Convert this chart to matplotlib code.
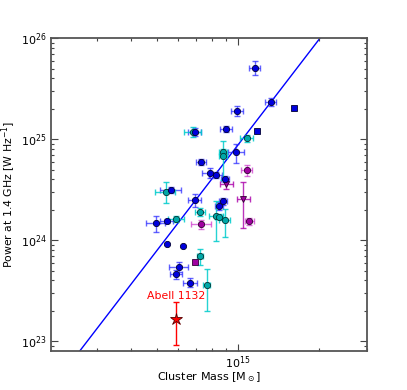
import numpy as np
import matplotlib
matplotlib.use("Agg")
import matplotlib.pyplot as plt

# ---- data (mass in 1e14 Msun, power in 1e24 W/Hz) ----
blue_m = [11.5, 13.2, 9.89, 9.03, 6.89, 9.83, 7.30, 7.83, 8.24, 8.93, 5.63, 6.89, 8.77, 8.51, 4.95, 5.43, 6.03, 5.89, 6.64]
blue_p = [51.2, 23.6, 19.2, 12.6, 11.9, 7.43, 5.92, 4.68, 4.47, 4.05, 3.15, 2.51, 2.45, 2.20, 1.47, 1.55, 0.545, 0.46, 0.381]
blue_xe = [0.55, 0.6, 0.5, 0.46, 0.4, 0.7, 0.3, 0.5, 0.45, 0.3, 0.5, 0.4, 0.3, 0.3, 0.4, 0.3, 0.5, 0.3, 0.4]
blue_ylo = [7.8, 2.3, 2.0, 0.9, 1.0, 1.6, 0.4, 0.55, 0.3, 0.3, 0.2, 0.38, 0.2, 0.2, 0.27, 0.08, 0.06, 0.05, 0.04]
blue_yhi = [8.5, 2.3, 2.0, 0.9, 1.0, 1.65, 0.4, 0.55, 0.3, 0.3, 0.2, 0.38, 0.2, 0.2, 0.27, 0.08, 0.06, 0.05, 0.04]

blue_nc_m = [5.43, 6.24]
blue_nc_p = [0.927, 0.873]
blue_sq_m = [16.1, 11.73]
blue_sq_p = [20.6, 12.2]

cyan_m = [6.81, 10.77, 8.82, 8.82, 5.38, 5.89, 7.23, 8.29, 8.47, 8.90, 7.21, 7.63]
cyan_p = [11.9, 10.2, 7.55, 6.89, 3.03, 1.63, 1.91, 1.75, 1.71, 1.58, 0.695, 0.361]
cyan_xe = [0.5, 0.6, 0.3, 0.3, 0.45, 0.4, 0.3, 0.5, 0.3, 0.4, 0.2, 0.2]
cyan_ylo = [1.3, 0.8, 0.4, 2.9, 0.69, 0.1, 0.18, 0.76, 0.1, 0.51, 0.12, 0.16]
cyan_yhi = [1.3, 0.8, 0.4, 2.8, 0.71, 0.1, 0.18, 0.70, 0.1, 0.46, 0.134, 0.164]

mag_m = [10.77, 7.30, 11.01]
mag_p = [4.97, 1.44, 1.54]
mag_xe = [0.5, 0.6, 0.4]
mag_ye = [0.6, 0.15, 0.12]
mag_tri_m = [9.03, 10.46]
mag_tri_p = [3.61, 2.56]
mag_tri_xe = [0.5, 0.6]
mag_tri_ylo = [0.4, 1.25]
mag_tri_yhi = [0.4, 1.19]
mag_sq_m = [6.89]
mag_sq_p = [0.606]

abell_m = [5.89]
abell_p = [0.167]
abell_ylo = [0.076]
abell_yhi = [0.076]

fit_slope = 3.48
fit_logp_at_1e15 = 24.947

# ---- figure ----
fig = plt.figure(figsize=(4.07, 3.90), dpi=100)
ax = fig.add_axes([0.1246, 0.1008, 0.7771, 0.801])
ax.set_xscale('log')
ax.set_yscale('log')

s14 = 1e14
s24 = 1e24

def arr(v, s):
    return np.asarray(v, dtype=float) * s

# fit line
mline = np.logspace(14.2, 15.6, 50)
pline = 10 ** (fit_logp_at_1e15 + fit_slope * (np.log10(mline) - 15.0))
ax.plot(mline, pline, color='#0000ff', lw=1.0, zorder=1)

ms = 4.5
edge = '#000033'

# blue
ax.errorbar(arr(blue_m, s14), arr(blue_p, s24), xerr=arr(blue_xe, s14),
            yerr=[arr(blue_ylo, s24), arr(blue_yhi, s24)], fmt='none',
            ecolor='#2222ff', alpha=0.7, capsize=2, elinewidth=1.0, zorder=2)
ax.plot(arr(blue_m, s14), arr(blue_p, s24), 'o', color='#0000dd', mec=edge, mew=0.6, ms=ms, zorder=4)
ax.plot(arr(blue_nc_m, s14), arr(blue_nc_p, s24), 'o', color='#0000dd', mec=edge, mew=0.6, ms=ms, zorder=4)
ax.plot(arr(blue_sq_m, s14), arr(blue_sq_p, s24), 's', color='#0000dd', mec=edge, mew=0.6, ms=ms * 0.9, zorder=4)

# cyan
ax.errorbar(arr(cyan_m, s14), arr(cyan_p, s24), xerr=arr(cyan_xe, s14),
            yerr=[arr(cyan_ylo, s24), arr(cyan_yhi, s24)], fmt='none',
            ecolor='#00cccc', alpha=0.85, capsize=2, elinewidth=1.0, zorder=2)
ax.plot(arr(cyan_m, s14), arr(cyan_p, s24), 'o', color='#00a8a8', mec='#003333', mew=0.6, ms=ms, zorder=3)

# magenta
ax.errorbar(arr(mag_m, s14), arr(mag_p, s24), xerr=arr(mag_xe, s14),
            yerr=arr(mag_ye, s24), fmt='none',
            ecolor='#cc33cc', alpha=0.7, capsize=2, elinewidth=1.0, zorder=2)
ax.errorbar(arr(mag_tri_m, s14), arr(mag_tri_p, s24), xerr=arr(mag_tri_xe, s14),
            yerr=[arr(mag_tri_ylo, s24), arr(mag_tri_yhi, s24)], fmt='none',
            ecolor='#aa00aa', alpha=0.8, capsize=2, elinewidth=1.0, zorder=2)
ax.plot(arr(mag_m, s14), arr(mag_p, s24), 'o', color='#a000a0', mec='#330033', mew=0.6, ms=ms, zorder=3)
ax.plot(arr(mag_tri_m, s14), arr(mag_tri_p, s24), 'v', color='#a000a0', mec='#330033', mew=0.6, ms=ms, zorder=3)
ax.plot(arr(mag_sq_m, s14), arr(mag_sq_p, s24), 's', color='#a000a0', mec='#330033', mew=0.6, ms=ms * 0.9, zorder=3)

# Abell 1132
ax.errorbar(arr(abell_m, s14), arr(abell_p, s24),
            yerr=[arr(abell_ylo, s24), arr(abell_yhi, s24)], fmt='none',
            ecolor='red', capsize=2.5, elinewidth=1.0, zorder=2)
ax.plot(arr(abell_m, s14), arr(abell_p, s24), '*', color='red', mec='#550000', mew=0.6, ms=9, zorder=5)
ax.text(abell_m[0] * s14, 2.83e23, 'Abell 1132', color='red', fontsize=7.8,
        ha='center', va='center', zorder=6)

ax.set_xlim(2.02e14, 3.0e15)
ax.set_ylim(10 ** 22.907, 1e26)

ax.set_xlabel(r'Cluster Mass [M$_\odot$]', fontsize=8)
ax.set_ylabel(r'Power at 1.4 GHz [W Hz$^{-1}$]', fontsize=7.8)
ax.xaxis.set_label_coords(0.4995, -0.062)
ax.yaxis.set_label_coords(-0.104, 0.5)

ax.tick_params(which='both', direction='in', top=True, right=True, labelsize=8, color='#444444')
ax.tick_params(which='major', length=5, width=0.8, pad=3)
ax.tick_params(which='minor', length=2.5, width=0.8)
for sp in ax.spines.values():
    sp.set_color('#555555')
    sp.set_linewidth(1.3)

fig.savefig('out.png', dpi=100)
